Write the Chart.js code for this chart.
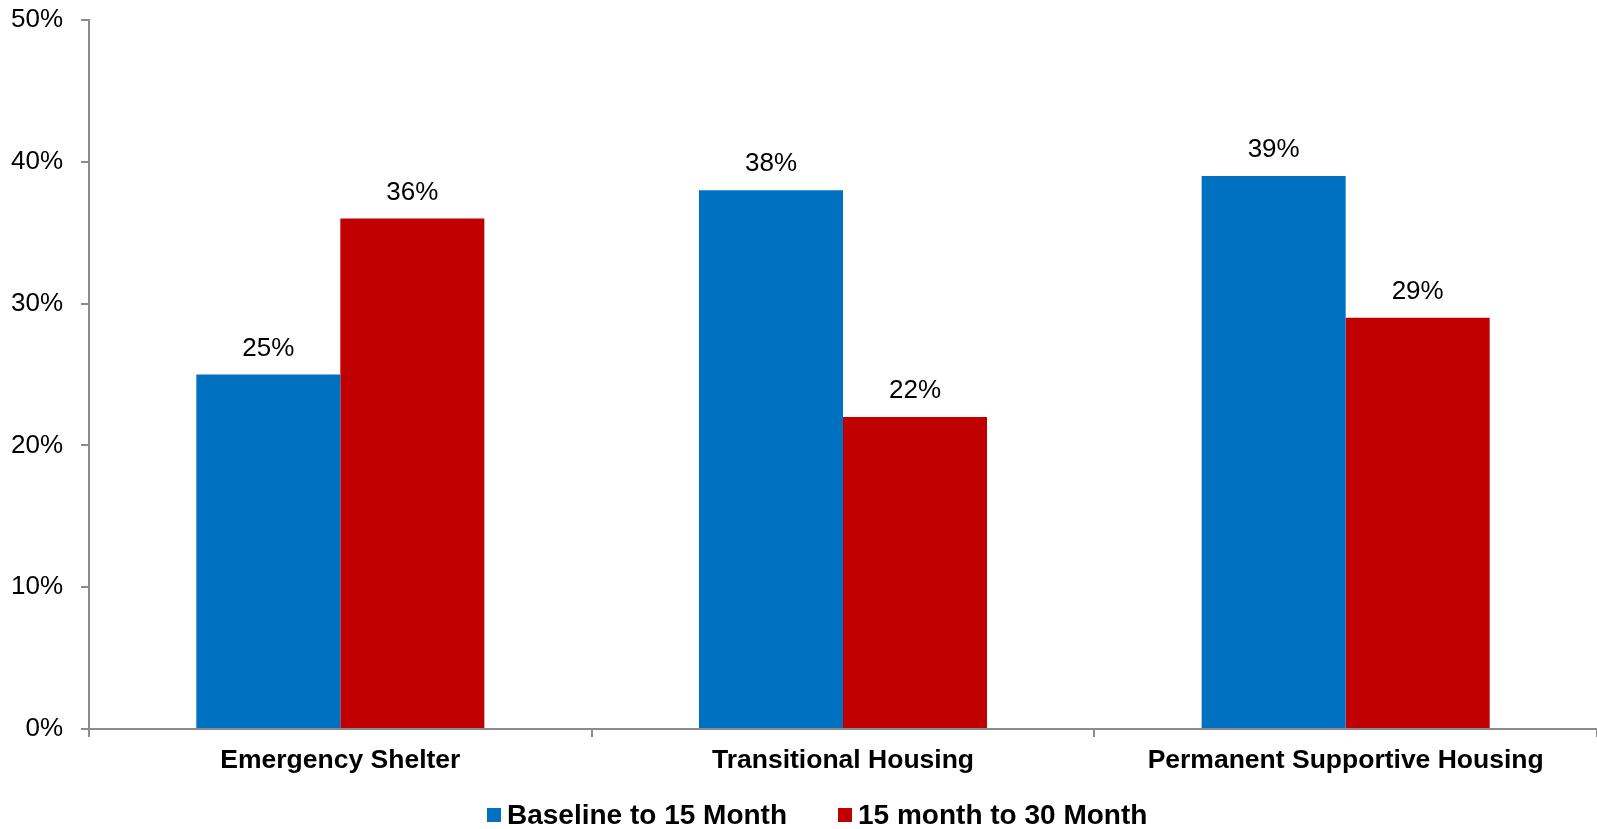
<!DOCTYPE html>
<html>
<head>
<meta charset="utf-8">
<script src="https://cdn.jsdelivr.net/npm/chart.js@4.4.1/dist/chart.umd.min.js"></script>
<style>
  html, body { margin: 0; padding: 0; background: #fff; }
  #wrap { position: relative; width: 1597px; height: 829px; }
  #legend {
    position: absolute; left: 487px; top: 799px;
    display: flex; align-items: center;
    font-family: "Liberation Sans", Arial, sans-serif; font-weight: bold; font-size: 28px; color: #000;
  }
  #legend .item { display: flex; align-items: center; margin-right: 51px; }
  #legend .box { width: 14px; height: 14px; margin-right: 6px; }
</style>
</head>
<body>
<div id="wrap">
  <canvas id="chart" width="1597" height="829"></canvas>
  <div id="legend"></div>
</div>
<script>
const categories = ['Emergency Shelter', 'Transitional Housing', 'Permanent Supportive Housing'];
const baselineTo15 = [25, 38, 39];
const month15To30 = [36, 22, 29];
const yTicks = [0, 10, 20, 30, 40, 50];
const seriesNames = ['Baseline to 15 Month', '15 month to 30 Month'];
const seriesColors = ['#0070C0', '#C00000'];

const FONT = '"Liberation Sans", Arial, sans-serif';
const AXIS_GRAY = '#8c8c8c';

const valueLabels = {
  id: 'valueLabels',
  afterDatasetsDraw(chart) {
    const ctx = chart.ctx;
    ctx.save();
    ctx.font = '26px ' + FONT;
    ctx.fillStyle = '#000';
    ctx.textAlign = 'center';
    ctx.textBaseline = 'middle';
    chart.data.datasets.forEach((ds, i) => {
      chart.getDatasetMeta(i).data.forEach((bar, j) => {
        ctx.fillText(ds.data[j] + '%', bar.x, bar.y - 26);
      });
    });
    ctx.restore();
  }
};

new Chart(document.getElementById('chart'), {
  type: 'bar',
  data: {
    labels: categories,
    datasets: [
      { label: seriesNames[0], data: baselineTo15, backgroundColor: seriesColors[0] },
      { label: seriesNames[1], data: month15To30, backgroundColor: seriesColors[1] }
    ]
  },
  options: {
    responsive: false,
    animation: false,
    events: [],
    barPercentage: 1,
    categoryPercentage: 0.573,
    layout: { padding: { top: 20, right: 0, bottom: 0, left: 0 } },
    plugins: { legend: { display: false }, tooltip: { enabled: false } },
    scales: {
      x: {
        offset: true,
        grid: { offset: true, drawOnChartArea: false, tickLength: 8, color: AXIS_GRAY, lineWidth: 2 },
        border: { color: AXIS_GRAY, width: 2 },
        ticks: { color: '#000', padding: 8, font: { family: FONT, size: 26.5, weight: 'bold' }, maxRotation: 0 },
        afterFit: s => { s.height = 100; s.paddingLeft = 0; s.paddingRight = 0; }
      },
      y: {
        min: 0, max: 50,
        afterBuildTicks: s => { s.ticks = yTicks.map(v => ({ value: v })); },
        grid: { drawOnChartArea: false, tickLength: 8, color: AXIS_GRAY, lineWidth: 2 },
        border: { color: AXIS_GRAY, width: 2 },
        ticks: { color: '#000', padding: 18, font: { family: FONT, size: 26 }, callback: v => v + '%' },
        afterFit: s => { s.width = 89; s.paddingTop = 0; s.paddingBottom = 0; }
      }
    }
  },
  plugins: [valueLabels]
});

const legend = document.getElementById('legend');
legend.innerHTML = seriesNames.map((n, i) =>
  `<span class="item"><span class="box" style="background:${seriesColors[i]}"></span>${n}</span>`
).join('');
</script>
</body>
</html>
